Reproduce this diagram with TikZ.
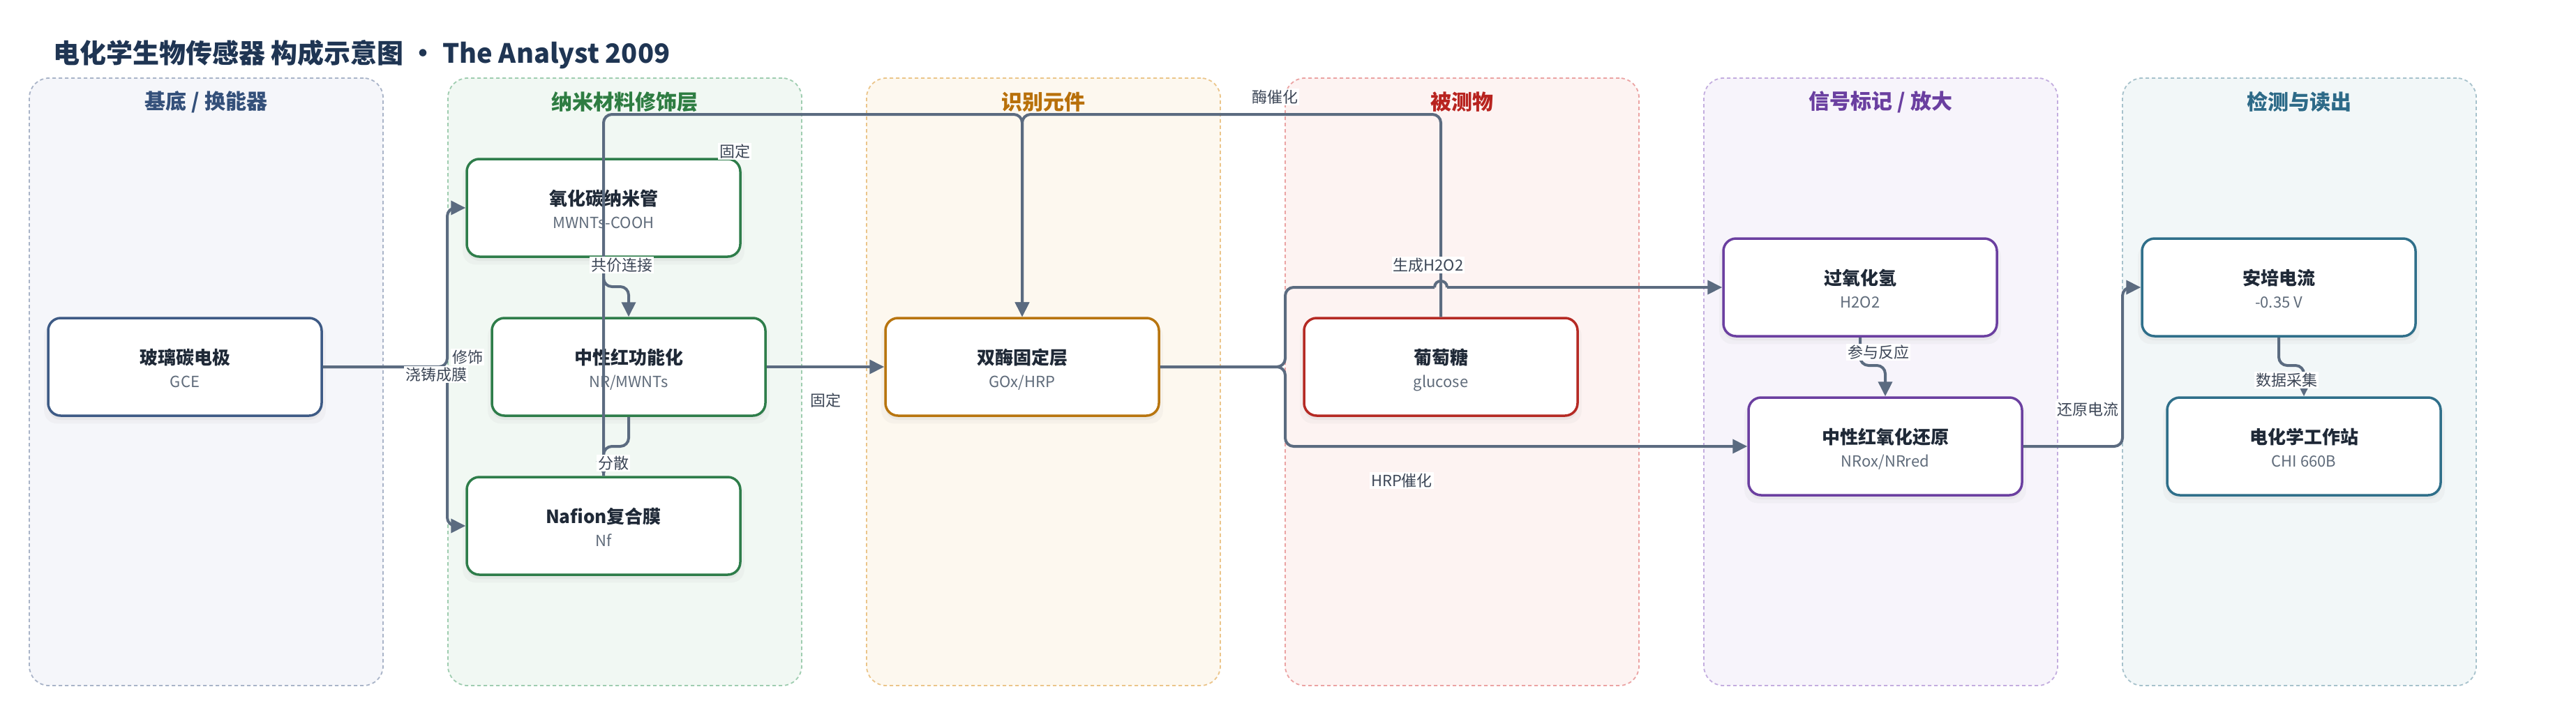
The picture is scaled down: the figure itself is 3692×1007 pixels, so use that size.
\documentclass[tikz,border=0pt]{standalone}
\usepackage{fontspec}
\setmainfont{Noto Sans CJK SC}
\usetikzlibrary{arrows.meta,shadows}

\definecolor{edgec}{HTML}{5B6B80}
\definecolor{lblc}{HTML}{3C4656}
\definecolor{titlec}{HTML}{1F3553}
\definecolor{ntc}{HTML}{1F2937}
\definecolor{nsc}{HTML}{5F6B7A}
\definecolor{laAfill}{HTML}{F5F6FA}\definecolor{laAdraw}{HTML}{A9B4C8}\definecolor{laAtext}{HTML}{34507A}\definecolor{laAnode}{HTML}{3D5A85}
\definecolor{laBfill}{HTML}{F1F8F3}\definecolor{laBdraw}{HTML}{9FCDB0}\definecolor{laBtext}{HTML}{2E7D42}\definecolor{laBnode}{HTML}{2E7D4A}
\definecolor{laCfill}{HTML}{FDF8EF}\definecolor{laCdraw}{HTML}{EBC58A}\definecolor{laCtext}{HTML}{B8700A}\definecolor{laCnode}{HTML}{B8750F}
\definecolor{laDfill}{HTML}{FDF3F2}\definecolor{laDdraw}{HTML}{EBA3A3}\definecolor{laDtext}{HTML}{B8231F}\definecolor{laDnode}{HTML}{B52A24}
\definecolor{laEfill}{HTML}{F7F4FB}\definecolor{laEdraw}{HTML}{C3ADDF}\definecolor{laEtext}{HTML}{6A3FA0}\definecolor{laEnode}{HTML}{6B3FA0}
\definecolor{laFfill}{HTML}{F2F7F8}\definecolor{laFdraw}{HTML}{A7C2CC}\definecolor{laFtext}{HTML}{2D6A88}\definecolor{laFnode}{HTML}{2F6F8A}

\tikzset{
  lanebox/.style={draw=#1draw, fill=#1fill, dash pattern=on 5pt off 4pt, line width=1.8pt,
    rounded corners=28pt, minimum width=507pt, minimum height=871pt, inner sep=0pt},
  lanetitle/.style={text=#1text, font=\fontsize{30}{34}\selectfont\bfseries, anchor=center, inner sep=0pt},
  nbox/.style={draw=#1, fill=white, line width=3.5pt, rounded corners=18pt,
    minimum width=392pt, minimum height=140pt, inner sep=0pt,
    drop shadow={shadow xshift=0pt, shadow yshift=-9pt, opacity=0.05, shadow scale=1.03},
    drop shadow={shadow xshift=0pt, shadow yshift=-6pt, opacity=0.08}},
  ntitle/.style={text=ntc, font=\fontsize{26}{30}\selectfont\bfseries, anchor=base, inner sep=0pt},
  nsub/.style={text=nsc, font=\fontsize{22}{26}\selectfont, anchor=base, inner sep=0pt},
  edge/.style={draw=edgec, line width=4pt, rounded corners=12pt},
  tip/.style={-{Triangle[length=21pt,width=20pt]}},
  lbl/.style={fill=white, text=lblc, font=\fontsize{22}{26}\selectfont, inner sep=2pt, anchor=center},
}

\newcommand{\bnode}[6]{%
  \node[nbox=#4] (#1) at (#2,#3) {};
  \node[ntitle] (#1-t) at (#2,#3-4) {#5};
  \node[nsub] (#1-s) at (#2,#3+29) {#6};
}

\begin{document}
\begin{tikzpicture}[x=1pt,y=-1pt]
\useasboundingbox[fill=white] (0,0) rectangle (3692,1007);

% title
\node[anchor=base west, inner sep=0pt, text=titlec, font=\fontsize{38}{44}\selectfont\bfseries] (title) at (76,90) {电化学生物传感器 构成示意图 · The Analyst 2009};

% lanes
\node[lanebox=laA] (lane1) at (295.5,547.5) {};
\node[lanebox=laB] (lane2) at (895.5,547.5) {};
\node[lanebox=laC] (lane3) at (1495.5,547.5) {};
\node[lanebox=laD] (lane4) at (2095.5,547.5) {};
\node[lanebox=laE] (lane5) at (2695.5,547.5) {};
\node[lanebox=laF] (lane6) at (3295.5,547.5) {};
\node[lanetitle=laA] (lt1) at (295.5,146) {基底 / 换能器};
\node[lanetitle=laB] (lt2) at (895.5,146) {纳米材料修饰层};
\node[lanetitle=laC] (lt3) at (1495.5,146) {识别元件};
\node[lanetitle=laD] (lt4) at (2095.5,146) {被测物};
\node[lanetitle=laE] (lt5) at (2695.5,146) {信号标记 / 放大};
\node[lanetitle=laF] (lt6) at (3295.5,146) {检测与读出};

% nodes
\bnode{gce}{265}{526}{laAnode}{玻璃碳电极}{GCE}
\bnode{mwnt}{865}{298}{laBnode}{氧化碳纳米管}{MWNTs-COOH}
\bnode{nr}{901}{526}{laBnode}{中性红功能化}{NR/MWNTs}
\bnode{nf}{865}{754}{laBnode}{Nafion复合膜}{Nf}
\bnode{enz}{1465}{526}{laCnode}{双酶固定层}{GOx/HRP}
\bnode{glu}{2065}{526}{laDnode}{葡萄糖}{glucose}
\bnode{hoo}{2666}{412}{laEnode}{过氧化氢}{H2O2}
\bnode{nrox}{2702}{640}{laEnode}{中性红氧化还原}{NRox/NRred}
\bnode{amp}{3266}{412}{laFnode}{安培电流}{-0.35 V}
\bnode{chi}{3302}{640}{laFnode}{电化学工作站}{CHI 660B}

% connectors
\coordinate (fa) at (641,526);
\coordinate (fb) at (1842,526);
\draw[edge,tip] (gce.east) -- (fa) |- (mwnt.west);
\draw[edge,tip] (gce.east) -- (fa) |- (nf.west);
\draw[edge,tip] (mwnt.south) -- (865,411) -| (nr.north);
\draw[edge,tip] (nr.south) -- (901,640) -| (nf.north);
\draw[edge,tip] (nf.north) -- (865,164) -| (enz.north);
\draw[edge,tip] (glu.north) -- (2065,164) -| (enz.north);
\draw[edge,tip] (nr.east) -- (enz.west);
\coordinate (ja) at (2056,412);
\coordinate (jb) at (2074,412);
\draw[edge] (enz.east) -- (fb) -- (1842,412) -- (ja);
\draw[draw=edgec, line width=4pt] (ja) .. controls (2056,400) and (2074,400) .. (jb);
\draw[edge,tip] (jb) -- (hoo.west);
\draw[edge,tip] (enz.east) -- (fb) |- (nrox.west);
\draw[edge,tip] (hoo.south) -- (2666,524) -| (nrox.north);
\draw[edge,tip] (nrox.east) -- (3042,640) |- (amp.west);
\draw[edge,tip] (amp.south) -- (3266,524) -| (chi.north);

% labels
\node[lbl] (l1) at (670,512) {修饰};
\node[lbl] (l2) at (625,537) {浇铸成膜};
\node[lbl] (l3) at (891,380) {共价连接};
\node[lbl] (l4) at (879,664) {分散};
\node[lbl] (l5) at (1053,217) {固定};
\node[lbl] (l6) at (1183,574) {固定};
\node[lbl] (l7) at (1827,139) {酶催化};
\node[lbl] (l8) at (2047,380) {生成H2O2};
\node[lbl] (l9) at (2009,689) {HRP催化};
\node[lbl] (l10) at (2692,505) {参与反应};
\node[lbl] (l11) at (2992,587) {还原电流};
\node[lbl] (l12) at (3277,545) {数据采集};
\end{tikzpicture}
\end{document}
